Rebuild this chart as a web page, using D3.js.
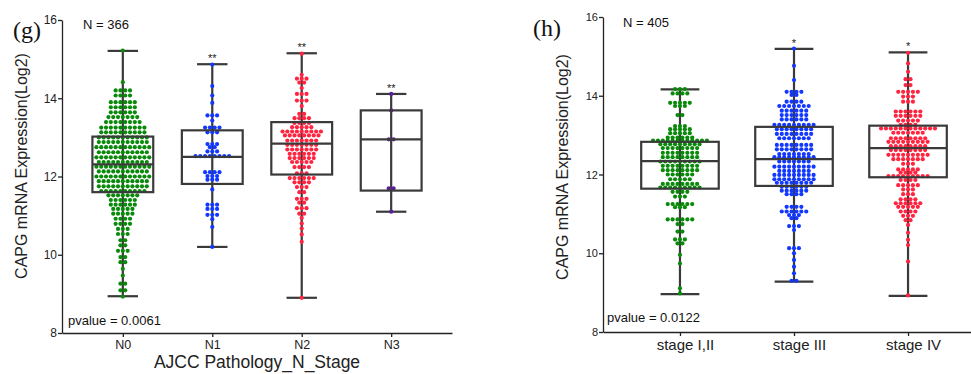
<!DOCTYPE html>
<html>
<head>
<meta charset="utf-8">
<script src="https://cdn.jsdelivr.net/npm/d3@7"></script>
<style>
  body { margin: 0; background: #fff; }
  svg { display: block; font-family: 'Liberation Sans', Arial, sans-serif; }
</style>
</head>
<body>
<script>
// ---- data ----
// each row = [log2 value, number of dots stacked side by side at that level]
const nStageCats = ['N0', 'N1', 'N2', 'N3']
const n0Rows = [[15.22,1],[14.41,1],[14.2,4],[14.07,4],[13.9,6],[13.77,6],[13.64,6],[13.52,7],[13.39,8],[13.25,10],[13.13,10],[13.0,11],[12.88,11],[12.75,12],[12.62,11],[12.49,12],[12.37,11],[12.25,12],[12.13,11],[12.0,12],[11.88,11],[11.75,11],[11.63,10],[11.52,7],[11.4,6],[11.28,6],[11.17,5],[11.05,5],[10.92,4],[10.79,4],[10.66,3],[10.53,3],[10.37,2],[10.24,2],[10.1,3],[9.94,2],[9.81,2],[9.64,1],[9.47,1],[9.26,2],[9.09,2],[8.93,1]]
const n1Rows = [[14.86,1],[14.31,1],[14.07,1],[13.88,1],[13.56,3],[13.43,1],[13.25,4],[13.13,3],[12.83,3],[12.75,2],[12.64,3],[12.52,8],[12.11,4],[12.01,3],[11.92,3],[11.67,1],[11.28,3],[11.17,3],[11.02,3],[10.91,1],[10.71,1],[10.2,1]]
const n2Rows = [[15.14,1],[14.6,1],[14.5,3],[14.4,2],[14.26,1],[14.11,3],[13.94,3],[13.8,1],[13.6,2],[13.49,4],[13.37,4],[13.26,5],[13.15,9],[13.05,8],[12.92,7],[12.81,7],[12.69,7],[12.58,6],[12.47,6],[12.37,5],[12.24,4],[12.08,3],[11.96,6],[11.85,4],[11.73,3],[11.6,2],[11.43,3],[11.33,2],[11.19,3],[11.05,2],[10.94,1],[10.8,1],[10.67,1],[10.52,1],[10.33,1],[8.9,1]]
const n3Rows = [[14.11,1],[13.69,1],[12.95,2],[11.7,2],[11.1,1]]
// [min, q1, median, q3, max]
const nStageBoxes = [[8.94,11.6,12.31,13.02,15.21],[10.2,11.81,12.5,13.18,14.87],[8.9,12.05,12.84,13.39,15.15],[11.1,11.64,12.95,13.69,14.11]]
const nStageStars = ['', '**', '**', '**']

const tnmCats = ['stage I,II', 'stage III', 'stage IV']
const s12Rows = [[14.17,3],[14.06,4],[13.82,5],[13.74,3],[13.51,2],[13.23,3],[13.15,5],[13.05,5],[12.94,6],[12.86,12],[12.77,9],[12.67,8],[12.55,8],[12.44,8],[12.33,9],[12.22,8],[12.11,8],[12.0,6],[11.88,5],[11.76,8],[11.67,9],[11.56,4],[11.44,3],[11.25,6],[11.17,3],[10.86,6],[10.74,2],[10.55,2],[10.35,3],[10.25,2],[9.96,1],[9.74,1],[9.11,1],[8.98,1]]
const s3Rows = [[15.2,1],[14.76,1],[14.4,1],[14.1,4],[14.02,2],[13.85,4],[13.74,7],[13.62,6],[13.51,6],[13.4,6],[13.26,9],[13.15,8],[13.03,8],[12.92,7],[12.75,8],[12.64,8],[12.52,7],[12.44,9],[12.33,7],[12.2,9],[12.09,7],[11.99,9],[11.88,9],[11.79,8],[11.69,6],[11.59,6],[11.5,4],[11.18,4],[11.06,6],[10.97,3],[10.89,2],[10.69,3],[10.59,1],[10.13,3],[10.0,1],[9.83,1],[9.66,1],[9.49,1],[9.3,2]]
const s4Rows = [[15.09,1],[14.82,1],[14.61,1],[14.42,2],[14.27,2],[14.1,5],[13.98,3],[13.85,3],[13.6,6],[13.49,6],[13.37,5],[13.26,4],[13.17,12],[13.06,7],[12.92,8],[12.83,9],[12.72,8],[12.62,8],[12.5,9],[12.39,7],[12.27,3],[12.13,5],[12.05,4],[11.96,9],[11.86,4],[11.73,5],[11.62,3],[11.5,3],[11.37,4],[11.27,6],[11.18,5],[11.06,4],[10.95,3],[10.84,2],[10.72,1],[10.52,1],[10.34,1],[10.21,1],[9.79,1],[8.93,1]]
const tnmBoxes = [[8.96,11.64,12.34,12.83,14.16],[9.28,11.71,12.39,13.21,15.19],[8.92,11.93,12.67,13.24,15.1]]
const tnmStars = ['', '*', '*']

const yTicks = [8, 10, 12, 14, 16]

const GREEN = '#0a8a0a', BLUE = '#1238ff', RED = '#ff2440', PURPLE = '#5a1d9c'
const BOX = '#3a3a3a'

const svg = d3.select('body').append('svg').attr('width', 971).attr('height', 374)

function drawPanel(o) {
  const g = svg.append('g')
  const y = d3.scaleLinear().domain([8, 16]).range(o.yRange)
  const x = d3.scalePoint().domain(o.cats).range(o.xRange).padding(o.pad)
  const bw = x.step() * 0.68

  // axes
  const ya = g.append('g').attr('transform', `translate(${o.xRange[0]},0)`)
    .call(d3.axisLeft(y).tickValues(yTicks).tickSize(4).tickSizeOuter(0).tickPadding(1))
  const xa = g.append('g').attr('transform', `translate(0,${o.yRange[0]})`)
    .call(d3.axisBottom(x).tickSize(4).tickSizeOuter(0).tickPadding(3))
  ;[ya, xa].forEach(a => {
    a.selectAll('path, line').attr('stroke', '#222').attr('stroke-width', 1.3)
    a.selectAll('text').attr('fill', '#222').attr('font-family', "'Liberation Sans', Arial, sans-serif")
  })
  ya.selectAll('text').attr('font-size', o.yTickSize)
  xa.selectAll('text').attr('font-size', o.xTickSize).attr('dx', o.xTickDx)

  // whiskers
  o.cats.forEach((c, i) => {
    const [mn, q1, md, q3, mx] = o.boxes[i]
    const cx = x(c)
    g.append('line').attr('x1', cx).attr('x2', cx).attr('y1', y(mx)).attr('y2', y(mn))
      .attr('stroke', BOX).attr('stroke-width', 2.2)
    ;[mn, mx].forEach(v => g.append('line')
      .attr('x1', cx - bw / 4).attr('x2', cx + bw / 4).attr('y1', y(v)).attr('y2', y(v))
      .attr('stroke', BOX).attr('stroke-width', 2.2))
  })

  // dots, laid out row by row
  o.cats.forEach((c, i) => {
    const pts = o.rows[i].flatMap(([v, n]) => d3.range(n).map(k => ({ v, off: k - (n - 1) / 2 })))
    g.append('g').selectAll('circle').data(pts).join('circle')
      .attr('cx', d => x(c) + d.off * o.pitch)
      .attr('cy', d => y(d.v))
      .attr('r', 2.1)
      .attr('fill', o.colors[i])
  })

  // boxes + medians on top
  o.cats.forEach((c, i) => {
    const [, q1, md, q3, mx] = o.boxes[i]
    const cx = x(c)
    g.append('rect').attr('x', cx - bw / 2).attr('width', bw)
      .attr('y', y(q3)).attr('height', y(q1) - y(q3))
      .attr('fill', 'none').attr('stroke', BOX).attr('stroke-width', 2.2)
    g.append('line').attr('x1', cx - bw / 2).attr('x2', cx + bw / 2).attr('y1', y(md)).attr('y2', y(md))
      .attr('stroke', BOX).attr('stroke-width', 2.2)
    if (o.stars[i]) g.append('text').attr('x', cx).attr('y', y(mx) - 2)
      .attr('text-anchor', 'middle').attr('font-size', 11).attr('fill', '#222').text(o.stars[i])
  })

  // labels
  g.append('text').attr('transform', `translate(${o.yLabelX},${o.yLabelY}) rotate(-90)`)
    .attr('text-anchor', 'middle').attr('font-size', 16).attr('fill', '#222')
    .text('CAPG mRNA Expression(Log2)')
  g.append('text').attr('x', o.nPos[0]).attr('y', o.nPos[1]).attr('font-size', 13).attr('fill', '#111').text(o.nText)
  g.append('text').attr('x', o.pPos[0]).attr('y', o.pPos[1]).attr('font-size', 13).attr('fill', '#111').text(o.pText)
  g.append('text').attr('x', o.tagPos[0]).attr('y', o.tagPos[1])
    .attr('font-family', "'Liberation Serif', 'Times New Roman', serif").attr('font-size', 24).attr('fill', '#111')
    .text(o.tag)
  if (o.xTitle) g.append('text').attr('x', (o.xRange[0] + o.xRange[1]) / 2).attr('y', 368)
    .attr('text-anchor', 'middle').attr('font-size', 17.5).attr('fill', '#222').text(o.xTitle)
}

drawPanel({
  cats: nStageCats, rows: [n0Rows, n1Rows, n2Rows, n3Rows], boxes: nStageBoxes, stars: nStageStars,
  colors: [GREEN, BLUE, RED, PURPLE],
  xRange: [62, 452], yRange: [333, 20], pad: 0.68, pitch: 4.8,
  yTickSize: 12, xTickSize: 12.5, xTickDx: 0,
  yLabelX: 27, yLabelY: 166,
  nText: 'N = 366', nPos: [83, 29], pText: 'pvalue = 0.0061', pPos: [68, 325],
  tag: '(g)', tagPos: [13, 38], xTitle: 'AJCC Pathology_N_Stage'
})

drawPanel({
  cats: tnmCats, rows: [s12Rows, s3Rows, s4Rows], boxes: tnmBoxes, stars: tnmStars,
  colors: [GREEN, BLUE, RED],
  xRange: [603, 985], yRange: [332, 17], pad: 0.675, pitch: 4.9,
  yTickSize: 11, xTickSize: 15, xTickDx: 5,
  yLabelX: 568, yLabelY: 167,
  nText: 'N = 405', nPos: [623, 27], pText: 'pvalue = 0.0122', pPos: [607, 322],
  tag: '(h)', tagPos: [533, 36], xTitle: null
})
</script>
</body>
</html>
